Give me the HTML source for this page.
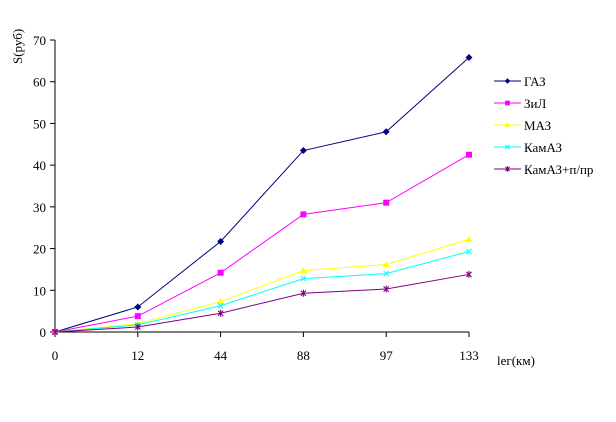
<!DOCTYPE html>
<html><head><meta charset="utf-8"><style>
body{margin:0;background:#fff;}
svg text{font-family:"Liberation Serif",serif;font-size:13px;fill:#000;}
</style></head><body>
<svg id="chart" width="616" height="417" xmlns="http://www.w3.org/2000/svg"></svg>
<script>
const categories=['0','12','44','88','97','133'];
const yTicks=[0,10,20,30,40,50,60,70];
const seriesNames=['ГАЗ','ЗиЛ','МАЗ','КамАЗ','КамАЗ+п/пр'];
const gaz=[0,6,21.7,43.5,48,65.8];
const zil=[0,3.8,14.2,28.2,31,42.5];
const maz=[0,2,7.3,14.7,16.2,22.2];
const kamaz=[0,1.7,6.3,12.8,14,19.3];
const kamazPp=[0,1.2,4.5,9.3,10.3,13.8];
const colors=['#000080','#FF00FF','#FFFF00','#00FFFF','#800080'];
const markers=['diamond','square','triangle','x','star'];
const allSeries=[gaz,zil,maz,kamaz,kamazPp];
const NS='http://www.w3.org/2000/svg';
const svg=document.getElementById('chart');
const x0=55,x1=469,y0=332,y1=40;
function xs(i){return x0+i*(x1-x0)/(categories.length-1);}
function ys(v){return y0-v*(y0-y1)/70;}
function mk(t,a,p){const e=document.createElementNS(NS,t);for(const k in a)e.setAttribute(k,a[k]);(p||svg).appendChild(e);return e;}
const ax=mk('g',{});


mk('line',{x1:x0,y1:y1,x2:x0,y2:y0,stroke:'#000'},ax);
mk('line',{x1:x0,y1:y0,x2:x1,y2:y0,stroke:'#000'},ax);
yTicks.forEach(v=>{
  mk('line',{x1:x0-5,y1:ys(v),x2:x0,y2:ys(v),stroke:'#000'},ax);
  const t=mk('text',{x:x0-9,y:ys(v)+5,'text-anchor':'end','font-size':'14'},ax);t.textContent=v;
  
  
});
categories.forEach((c,i)=>{
  mk('line',{x1:xs(i),y1:y0,x2:xs(i),y2:y0+5,stroke:'#000'},ax);
  const t=mk('text',{x:xs(i),y:y0+28,'text-anchor':'middle','font-size':'14'},ax);t.textContent=c;
  
  
});
const yt=mk('text',{x:0,y:0,transform:'translate(22,64) rotate(-90)','font-size':'12'});yt.textContent='S(руб)';


const xt=mk('text',{x:497,y:365});xt.textContent='lег(км)';


function marker(g,type,x,y,c,s){
  if(type==='diamond')mk('path',{d:`M${x},${y-s}L${x+s},${y}L${x},${y+s}L${x-s},${y}Z`,fill:c},g);
  else if(type==='square')mk('rect',{x:x-s*0.85,y:y-s*0.85,width:s*1.7,height:s*1.7,fill:c},g);
  else if(type==='triangle')mk('path',{d:`M${x},${y-s}L${x+s},${y+s*0.75}L${x-s},${y+s*0.75}Z`,fill:c},g);
  else if(type==='x')mk('path',{d:`M${x-s*0.75},${y-s*0.75}L${x+s*0.75},${y+s*0.75}M${x+s*0.75},${y-s*0.75}L${x-s*0.75},${y+s*0.75}`,stroke:c,'stroke-width':1.1},g);
  else mk('path',{d:`M${x-s*0.75},${y-s*0.75}L${x+s*0.75},${y+s*0.75}M${x+s*0.75},${y-s*0.75}L${x-s*0.75},${y+s*0.75}M${x},${y-s}L${x},${y+s}`,stroke:c,'stroke-width':1.1},g);
}
allSeries.forEach((s,k)=>{
  const g=mk('g',{});
  
  
  mk('polyline',{points:s.map((v,i)=>xs(i)+','+ys(v)).join(' '),fill:'none',stroke:colors[k],'stroke-width':1},g);
  s.forEach((v,i)=>marker(g,markers[k],xs(i),ys(v),colors[k],3.5));
  const ly=81+k*22;
  const lg=mk('g',{});
  
  
  mk('line',{x1:494,y1:ly,x2:521,y2:ly,stroke:colors[k]},lg);
  marker(lg,markers[k],507.5,ly,colors[k],2.8);
  const t=mk('text',{x:524,y:ly+5},lg);t.textContent=seriesNames[k];
});
</script>
</body></html>
